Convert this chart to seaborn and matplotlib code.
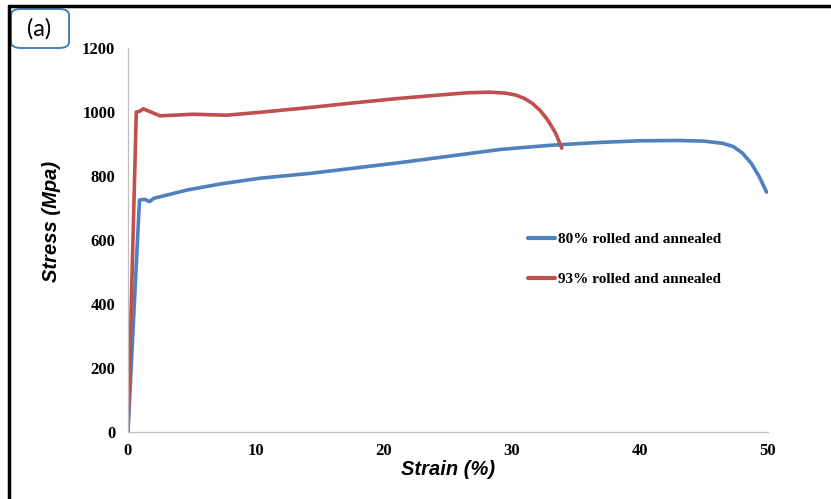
import matplotlib
matplotlib.use("Agg")
import matplotlib.pyplot as plt
import seaborn as sns
import pandas as pd
from matplotlib.lines import Line2D
from matplotlib.patches import FancyBboxPatch

# Data
strain_80 = [0, 0.9, 1.3, 1.7, 2.0, 3.0, 4.6, 7.2, 10.3, 14.2, 21.3, 29.1, 33.0, 36.9,
             40.0, 43.0, 45.0, 46.5, 47.3, 48.0, 48.7, 49.3, 49.9]
stress_80 = [0, 725, 727, 720, 730, 740, 756, 775, 793, 808, 842, 883, 896, 905,
             910, 911, 909, 902, 892, 872, 840, 800, 750]
strain_93 = [0, 0.65, 0.9, 1.2, 1.6, 2.5, 5.1, 7.7, 10.3, 14.2, 17.5, 21.3, 24.0, 26.5,
             28.3, 29.5, 30.3, 31.0, 31.6, 32.2, 32.8, 33.4, 33.9]
stress_93 = [0, 1000, 1002, 1010, 1003, 988, 993, 990, 999, 1014, 1028, 1043, 1052, 1060,
             1062, 1059, 1053, 1042, 1027, 1005, 975, 935, 887]
series_names = ["80% rolled and annealed", "93% rolled and annealed"]
colors = ["#4f81bd", "#c0504d"]
x_ticks = [0, 10, 20, 30, 40, 50]
y_ticks = [0, 200, 400, 600, 800, 1000, 1200]

df = pd.concat([
    pd.DataFrame({"Strain": strain_80, "Stress": stress_80, "series": series_names[0]}),
    pd.DataFrame({"Strain": strain_93, "Stress": stress_93, "series": series_names[1]}),
], ignore_index=True)

sns.set_style("white")
plt.rcParams["text.color"] = "black"
plt.rcParams["axes.labelcolor"] = "black"

fig = plt.figure(figsize=(8.31, 4.99), dpi=100)
ax = fig.add_axes([0.154, 0.1343, 0.770, 0.7695])

sns.lineplot(data=df, x="Strain", y="Stress", hue="series", palette=colors,
             sort=False, estimator=None, linewidth=2.6, ax=ax)

ax.set_xlim(0, 50)
ax.set_ylim(0, 1200)
ax.set_xticks(x_ticks)
ax.set_yticks(y_ticks)
for s in ["top", "right"]:
    ax.spines[s].set_visible(False)
for s in ["left", "bottom"]:
    ax.spines[s].set_color("#bfbfbf")
    ax.spines[s].set_linewidth(0.9)
ax.tick_params(axis="both", direction="out", length=3.6, width=0.9, color="#bfbfbf",
               labelsize=12, labelcolor="black")
ax.tick_params(axis="y", pad=5.5)
ax.tick_params(axis="x", pad=4)
for lab in ax.get_xticklabels() + ax.get_yticklabels():
    lab.set_fontfamily("Liberation Serif")
    lab.set_fontweight("bold")

ax.set_xlabel("Strain (%)", fontsize=14.5, fontweight="bold", fontstyle="italic",
              family="Liberation Sans", labelpad=1, color="black")
ax.set_ylabel("Stress (Mpa)", fontsize=14.5, fontweight="bold", fontstyle="italic",
              family="Liberation Sans", color="black")
ax.yaxis.set_label_coords(-0.104, 0.549)

leg = ax.legend(loc="upper left", bbox_to_anchor=(0.625, 0.52), frameon=False,
                handlelength=1.8, handletextpad=0.2, labelspacing=1.75,
                borderpad=0, borderaxespad=0,
                prop={"family": "Liberation Serif", "weight": "bold", "size": 11})
for h in leg.get_lines():
    h.set_linewidth(3)
for t in leg.get_texts():
    t.set_color("black")

# figure frame (top and left borders)
W, H = 831, 499
fig.add_artist(Line2D([9 / W, 1.0], [1 - 6 / H, 1 - 6 / H], color="black", lw=2.5,
                      transform=fig.transFigure))
fig.add_artist(Line2D([9 / W, 9 / W], [0, 1 - 6 / H], color="black", lw=2.5,
                      transform=fig.transFigure))

# (a) panel label box
box = FancyBboxPatch((11 / W, 1 - 48 / H), 58 / W, 39 / H,
                     boxstyle="round,pad=0,rounding_size=0.012",
                     transform=fig.transFigure, facecolor="white",
                     edgecolor="#4a7ebb", lw=1.4)
fig.add_artist(box)
fig.text(39 / W, 1 - 29 / H, "(a)", ha="center", va="center", fontsize=17,
         family="Lato", color="black")

fig.savefig("out.png", dpi=100)
